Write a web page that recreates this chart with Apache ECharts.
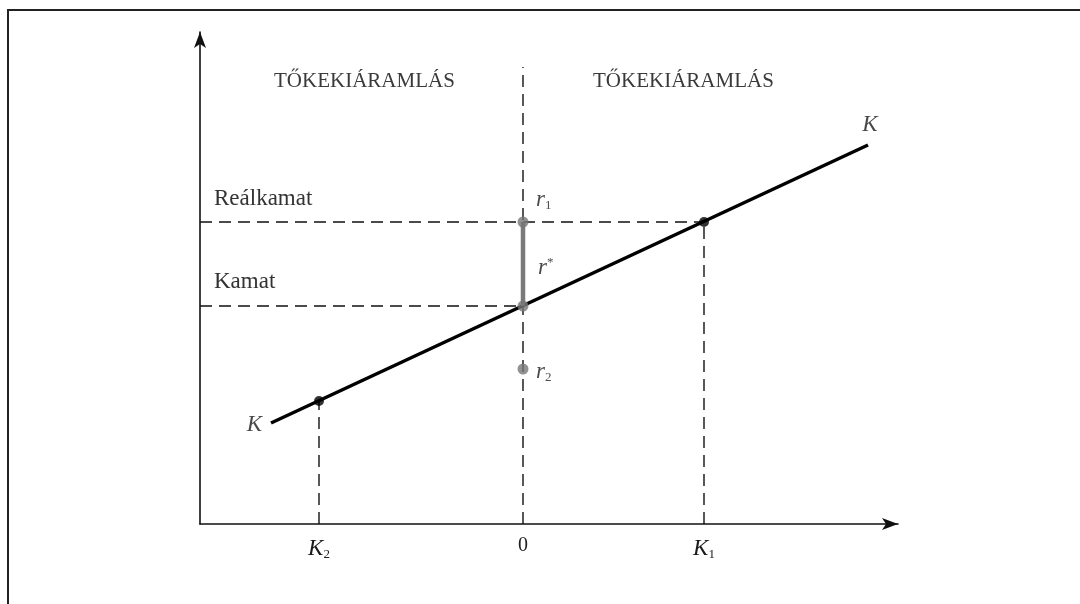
<!DOCTYPE html>
<html>
<head>
<meta charset="utf-8">
<script src="https://cdn.jsdelivr.net/npm/echarts@6/dist/echarts.min.js"></script>
<style>
    html, body { margin: 0; padding: 0; background: #fff; }
    #chart { width: 1080px; height: 604px; }
</style>
</head>
<body>
<div id="chart"></div>
<script>
// capital flow line K-K
const kLineX = [-2.52, 3.45];
const kLineY = [1.01, 3.79];

const k2 = [-2.04, 1.23];
const k1 = [1.81, 3.02];
const rStar = [0, 2.18];
const r1 = [0, 3.02];
const r2 = [0, 1.55];

const xMin = -3.23;
const xMax = 3.75;
const yMax = 4.92;
const zeroLineTop = 4.57;

const xTickValues = [-2.04, 0, 1.81];
const xTickLabels = ['{k|K}{s|2}', '{n|0}', '{k|K}{s|1}'];

const headerTexts = ['TŐKEKIÁRAMLÁS', 'TŐKEKIÁRAMLÁS'];
const rateLabels = ['Reálkamat', 'Kamat'];

const serif = 'Liberation Serif';
const dashed = { color: '#111', width: 1.4, type: [12, 7] };

function dashLine(points) {
    return {
        type: 'line',
        data: points,
        symbol: 'none',
        lineStyle: dashed,
        silent: true,
        z: 1
    };
}

function labelPoint(point, text, position, offset) {
    return {
        value: point,
        label: {
            show: true,
            formatter: text,
            position: position,
            offset: offset || [0, 0]
        }
    };
}

let chart = echarts.init(document.getElementById('chart'));

let richText = {
    i: { fontFamily: serif, fontStyle: 'italic', fontSize: 23, color: '#1a1a1a' },
    s: { fontFamily: serif, fontSize: 13, color: '#222', padding: [12, 0, 0, 0] },
    sup: { fontFamily: serif, fontSize: 13, color: '#222', padding: [0, 0, 10, 0] }
};

chart.setOption({
    animation: false,
    backgroundColor: '#fff',
    grid: { left: 200, right: 182, top: 32, bottom: 80 },
    xAxis: {
        type: 'value',
        min: xMin,
        max: xMax,
        splitLine: { show: false },
        axisTick: { show: false },
        axisLine: {
            show: true,
            onZero: false,
            symbol: ['none', 'arrow'],
            symbolSize: [9, 16],
            lineStyle: { color: '#111', width: 1.6 }
        },
        axisLabel: {
            customValues: xTickValues,
            margin: 12,
            formatter: function (value) {
                let idx = xTickValues.indexOf(value);
                return idx >= 0 ? xTickLabels[idx] : '';
            },
            rich: {
                k: { fontFamily: serif, fontStyle: 'italic', fontSize: 23, color: '#1a1a1a' },
                s: { fontFamily: serif, fontSize: 13, color: '#222', padding: [12, 0, 0, 0] },
                n: { fontFamily: serif, fontSize: 20, color: '#222' }
            }
        }
    },
    yAxis: {
        type: 'value',
        min: 0,
        max: yMax,
        splitLine: { show: false },
        axisTick: { show: false },
        axisLabel: { show: false },
        axisLine: {
            show: true,
            onZero: false,
            symbol: ['none', 'arrow'],
            symbolSize: [9, 16],
            lineStyle: { color: '#111', width: 1.6 }
        }
    },
    series: [
        // dashed guides
        dashLine([[xMin, r1[1]], k1]),
        dashLine([[xMin, rStar[1]], rStar]),
        dashLine([[0, 0], [0, zeroLineTop]]),
        dashLine([[k2[0], 0], k2]),
        dashLine([[k1[0], 0], k1]),
        // K-K line
        {
            type: 'line',
            data: [[kLineX[0], kLineY[0]], [kLineX[1], kLineY[1]]],
            symbol: 'none',
            lineStyle: { color: '#000', width: 3.5 },
            z: 3
        },
        // gray gap between r* and r1
        {
            type: 'line',
            data: [rStar, r1],
            symbol: 'none',
            lineStyle: { color: '#7a7a7a', width: 4.5 },
            z: 4
        },
        {
            type: 'scatter',
            data: [k2, k1],
            symbolSize: 10,
            itemStyle: { color: '#000' },
            z: 5
        },
        {
            type: 'scatter',
            data: [r1, rStar, r2],
            symbolSize: 11,
            itemStyle: { color: '#777' },
            z: 5
        },
        // text labels placed on data points
        {
            type: 'scatter',
            symbolSize: 0,
            silent: true,
            z: 6,
            label: { rich: richText, fontFamily: serif, color: '#222' },
            data: [
                labelPoint(r1, '{i|r}{s|1}', 'right', [8, -22]),
                labelPoint(rStar, '{i|r}{sup|*}', 'right', [10, -38]),
                labelPoint(r2, '{i|r}{s|2}', 'right', [8, 3]),
                labelPoint([kLineX[0], kLineY[0]], '{i|K}', 'left', [-4, 2]),
                labelPoint([kLineX[1], kLineY[1]], '{i|K}', 'top', [2, -4])
            ]
        }
    ],
    graphic: [
        {
            type: 'rect',
            shape: { x: 8, y: 10, width: 1200, height: 800 },
            style: { fill: 'none', stroke: '#222', lineWidth: 2 },
            silent: true
        },
        {
            type: 'text',
            left: 274, top: 71,
            style: { text: headerTexts[0], font: '21px "Liberation Serif"', fill: '#3a3a3a' }
        },
        {
            type: 'text',
            left: 593, top: 71,
            style: { text: headerTexts[1], font: '21px "Liberation Serif"', fill: '#3a3a3a' }
        },
        {
            type: 'text',
            left: 214, top: 187,
            style: { text: rateLabels[0], font: '23px "Liberation Serif"', fill: '#333' }
        },
        {
            type: 'text',
            left: 214, top: 270,
            style: { text: rateLabels[1], font: '23px "Liberation Serif"', fill: '#333' }
        }
    ]
});
</script>
</body>
</html>
